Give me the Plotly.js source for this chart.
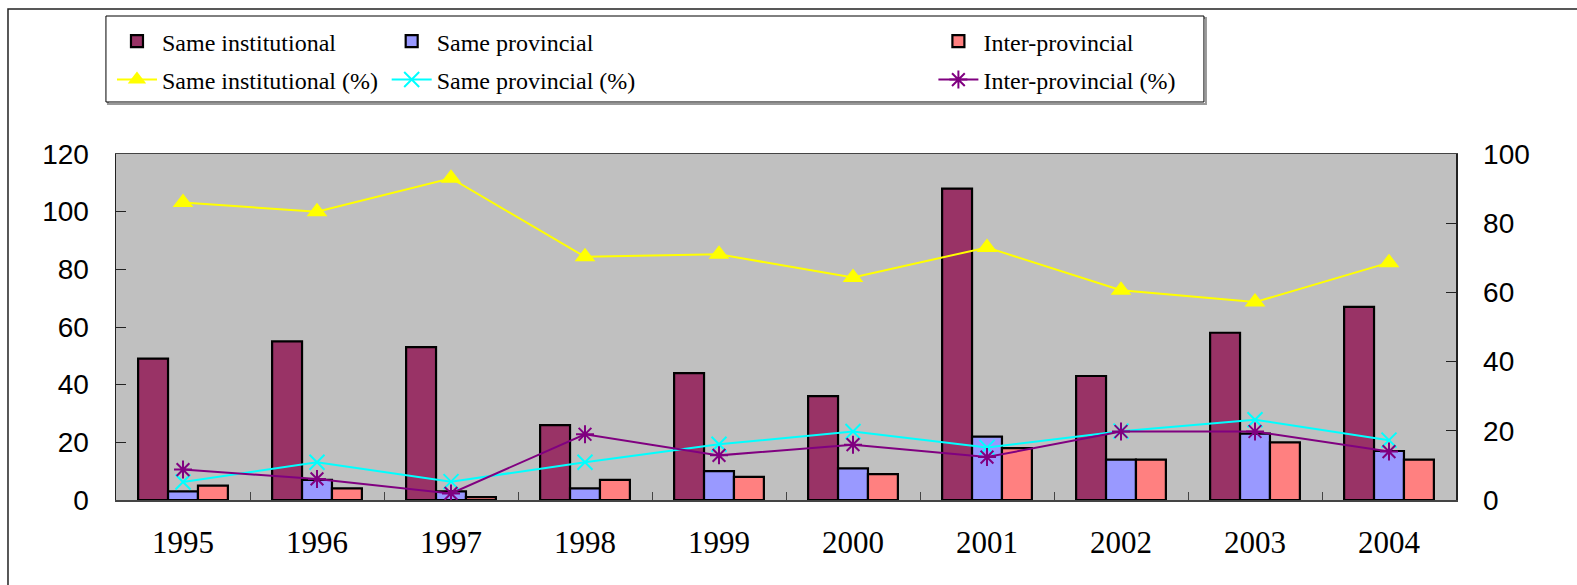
<!DOCTYPE html>
<html>
<head>
<meta charset="utf-8">
<script src="https://cdn.plot.ly/plotly-3.0.1.min.js"></script>
<style>html,body{margin:0;padding:0;background:#fff;}#chart{width:1577px;height:585px;}</style>
</head>
<body>
<div id="chart"></div>
<script>
const years = ['1995','1996','1997','1998','1999','2000','2001','2002','2003','2004'];
const sameInst = [49, 55, 53, 26, 44, 36, 108, 43, 58, 67];
const sameProv = [3, 7, 3, 4, 10, 11, 22, 14, 23, 17];
const interProv = [5, 4, 1, 7, 8, 9, 18, 14, 20, 14];
const sameInstPct = [86, 83.3, 93, 70.3, 71, 64.3, 73, 60.6, 57.2, 68.6];
const sameProvPct = [5.2, 10.9, 5.3, 10.9, 16.1, 19.8, 15.2, 19.9, 23.2, 17.3];
const interProvPct = [8.8, 6.1, 1.9, 19, 12.9, 16, 12.4, 19.8, 19.8, 14];

const barLine = {color: '#000000', width: 2.2};
const traces = [
  {type: 'bar', name: 'Same institutional', x: years, y: sameInst,
   marker: {color: '#993366', line: barLine}, legend: 'legend'},
  {type: 'bar', name: 'Same provincial', x: years, y: sameProv,
   marker: {color: '#9999FF', line: barLine}, legend: 'legend2'},
  {type: 'bar', name: 'Inter-provincial', x: years, y: interProv,
   marker: {color: '#FF8080', line: barLine}, legend: 'legend3'},
  {type: 'scatter', mode: 'lines+markers', name: 'Same institutional (%)', x: years, y: sameInstPct, yaxis: 'y2',
   line: {color: '#FFFF00', width: 2}, marker: {symbol: 'triangle-up', size: 18, color: '#FFFF00'}, legend: 'legend4'},
  {type: 'scatter', mode: 'lines+markers', name: 'Same provincial (%)', x: years, y: sameProvPct, yaxis: 'y2',
   line: {color: '#00FFFF', width: 2}, marker: {symbol: 'x-thin-open', size: 15, color: '#00FFFF', line: {color: '#00FFFF', width: 2}}, legend: 'legend5'},
  {type: 'scatter', mode: 'lines+markers', name: 'Inter-provincial (%)', x: years, y: interProvPct, yaxis: 'y2',
   line: {color: '#800080', width: 2}, marker: {symbol: 'asterisk-open', size: 15, color: '#800080', line: {color: '#800080', width: 2}}, legend: 'legend6'}
];

const legFont = {family: 'Liberation Serif, serif', size: 24, color: '#000'};
function leg(x, y) {
  return {x: x, y: y, xanchor: 'left', yanchor: 'middle', orientation: 'v',
          bgcolor: 'rgba(0,0,0,0)', borderwidth: 0, font: legFont, itemwidth: 40,
          itemclick: false, itemdoubleclick: false};
}
const c1 = -0.003, c2 = 0.202, c3 = 0.610;
const r1 = 1.325, r2 = 1.214;

const layout = {
  width: 1577, height: 585,
  margin: {l: 116, r: 121, t: 154, b: 85},
  paper_bgcolor: '#FFFFFF',
  plot_bgcolor: '#C0C0C0',
  barmode: 'group', bargap: 0.33, bargroupgap: 0,
  showlegend: true,
  legend: leg(c1, r1), legend2: leg(c2, r1), legend3: leg(c3, r1),
  legend4: leg(c1, r2), legend5: leg(c2, r2), legend6: leg(c3, r2),
  xaxis: {type: 'category', range: [-0.5, 9.5], tickson: 'boundaries', ticks: 'inside', ticklen: 8, tickcolor: '#444',
          showline: true, linecolor: '#444', linewidth: 1.5, mirror: true, showgrid: false, zeroline: false,
          tickfont: {family: 'Liberation Serif, serif', size: 31, color: '#000'}, ticklabelstandoff: 14},
  yaxis: {range: [0, 120], dtick: 20, ticks: 'inside', ticklen: 10, tickcolor: '#222',
          showline: true, linecolor: '#222', linewidth: 1.5, showgrid: false, zeroline: false,
          tickfont: {family: 'Liberation Sans, Arial, sans-serif', size: 28, color: '#000'}, ticklabelstandoff: 20},
  yaxis2: {range: [0, 100], dtick: 20, overlaying: 'y', side: 'right', ticks: 'inside', ticklen: 10, tickcolor: '#222',
           showline: true, linecolor: '#222', linewidth: 1.5, showgrid: false, zeroline: false,
           tickfont: {family: 'Liberation Sans, Arial, sans-serif', size: 28, color: '#000'}, ticklabelstandoff: 20},
  shapes: [
    {type: 'rect', xref: 'paper', yref: 'paper', x0: -0.0806, x1: 1.1, y0: -0.3, y1: 1.419,
     line: {color: '#222', width: 1.5}, fillcolor: 'rgba(0,0,0,0)', layer: 'below'},
    {type: 'rect', xref: 'paper', yref: 'paper', x0: -0.0060, x1: 0.8134, y0: 1.1445, y1: 1.3930,
     line: {color: '#999', width: 2}, fillcolor: 'rgba(0,0,0,0)', layer: 'below'},
    {type: 'rect', xref: 'paper', yref: 'paper', x0: -0.0075, x1: 0.8119, y0: 1.1503, y1: 1.3988,
     line: {color: '#000', width: 1}, fillcolor: '#FFFFFF', layer: 'below'}
  ]
};

Plotly.newPlot('chart', traces, layout, {staticPlot: true, displayModeBar: false});
</script>
</body>
</html>
